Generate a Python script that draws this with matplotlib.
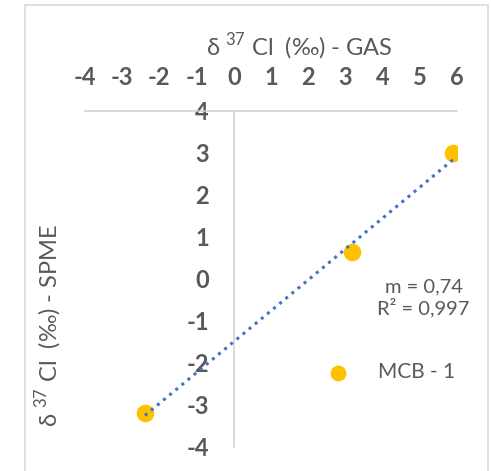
import matplotlib
matplotlib.use('Agg')
import matplotlib.pyplot as plt
import numpy as np
from matplotlib.patches import Rectangle

plt.rcParams['font.family'] = ['Lato', 'DejaVu Sans']
plt.rcParams['mathtext.fontset'] = 'custom'
plt.rcParams['mathtext.rm'] = 'Lato'

# data
gas = [-2.39, 3.19, 5.90]
spme = [-3.18, 0.64, 2.99]
series_name = 'MCB - 1'
slope_txt = 'm = 0,74'
r2_txt = 'R² = 0,997'
xticks = [-4, -3, -2, -1, 0, 1, 2, 3, 4, 5, 6]
yticks = [-4, -3, -2, -1, 0, 1, 2, 3, 4]

grey = '#595959'
orange = '#FFC000'
blue = '#4472C4'

fig = plt.figure(figsize=(4.91, 4.71), dpi=100)
W, H = 491, 471
# chart border
fig.patches.append(Rectangle((25/W, -0.05), (488-25)/W, 1.05 - 5/H, transform=fig.transFigure,
                             fill=False, edgecolor='#D9D9D9', linewidth=1.2))

ax = fig.add_axes([85/W, 1 - 447/H, (457-85)/W, (447-111)/H])
ax.set_xlim(-4, 6)
ax.set_ylim(-4, 4)

# linear trendline
k, b = np.polyfit(gas, spme, 1)
xs = np.array([min(gas), max(gas)])
ax.plot(xs, k*xs + b, linestyle=(0, (1, 1.6)), color=blue, linewidth=2.2, zorder=3)
ax.scatter(gas, spme, s=160, color=orange, zorder=2, linewidths=0)

for s in ['right', 'bottom']:
    ax.spines[s].set_visible(False)
ax.spines['left'].set_position(('data', 0))
ax.spines['top'].set_position(('data', 4))
for s in ['left', 'top']:
    ax.spines[s].set_color('#D0D0D0')
    ax.spines[s].set_linewidth(1.1)

ax.xaxis.tick_top()
ax.set_xticks(xticks)
ax.set_xticklabels([str(v) for v in xticks])
ax.set_yticks(yticks)
ax.set_yticklabels([str(v) for v in yticks])
ax.tick_params(length=0, labelsize=17, labelcolor=grey)
ax.tick_params(axis='x', pad=16)
ax.tick_params(axis='y', pad=18)
for lab in ax.get_xticklabels() + ax.get_yticklabels():
    lab.set_fontweight('bold')

fig.text(299/W, 1 - 47/H, 'δ $^{37}$ Cl  (‰) - GAS', ha='center', va='center',
         fontsize=17, color=grey)
fig.text(49/W, 1 - 325/H, 'δ $^{37}$ Cl  (‰) - SPME', ha='center', va='center',
         rotation=90, fontsize=17, color=grey)

fig.text(424/W, 1 - 287/H, slope_txt, ha='center', va='center', fontsize=14.5, color=grey)
fig.text(423/W, 1 - 308/H, r2_txt, ha='center', va='center', fontsize=14.5, color=grey)

ax.scatter([], [], s=130, color=orange, linewidths=0, label=series_name)
fig.legend(*ax.get_legend_handles_labels(), loc='center left', bbox_to_anchor=(309/W, 1 - 372/H),
           frameon=False, fontsize=15, labelcolor=grey, handletextpad=0.9, borderaxespad=0)

fig.savefig('out.png', dpi=100)
